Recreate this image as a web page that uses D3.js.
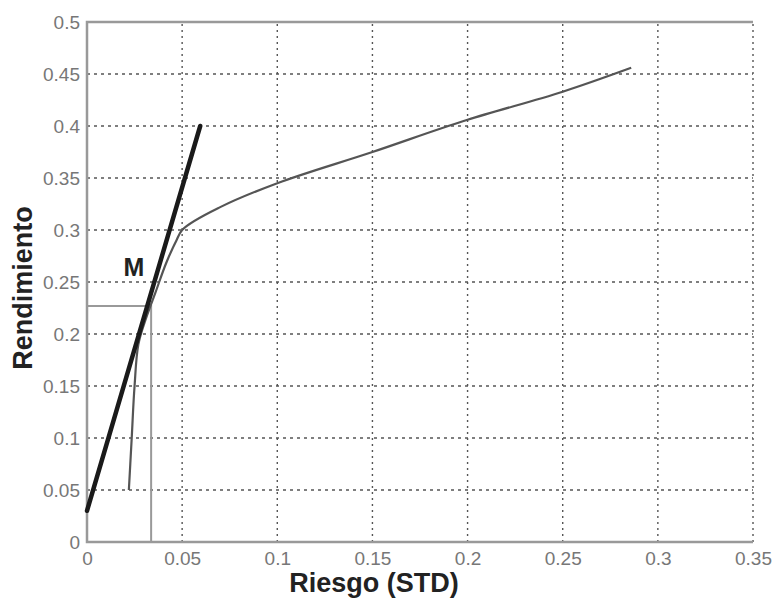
<!DOCTYPE html>
<html>
<head>
<meta charset="utf-8">
<script src="https://cdn.jsdelivr.net/npm/d3@7"></script>
<style>
  body { margin: 0; background: #fff; }
  text { font-family: "Liberation Sans", Arial, sans-serif; }
</style>
</head>
<body>
<script>
(function() {

  // ticks
  let xTicks = [0, 0.05, 0.1, 0.15, 0.2, 0.25, 0.3, 0.35];
  let yTicks = [0, 0.05, 0.1, 0.15, 0.2, 0.25, 0.3, 0.35, 0.4, 0.45, 0.5];

  // efficient frontier (risk, return)
  let frontierRisk = [0.022, 0.0235, 0.025, 0.027, 0.031, 0.036, 0.042, 0.047, 0.05, 0.07, 0.1, 0.15, 0.2, 0.25, 0.286];
  let frontierRet  = [0.05, 0.10, 0.15, 0.19, 0.215, 0.24, 0.27, 0.29, 0.30, 0.322, 0.345, 0.375, 0.406, 0.433, 0.456];

  // capital market line
  let cmlRisk = [0, 0.0595];
  let cmlRet  = [0.03, 0.40];

  // tangency portfolio M
  let mRisk = 0.0337;
  let mRet = 0.227;

  let svg = d3.select('body')
    .append('svg')
    .attr('width', 775)
    .attr('height', 600);

  let xScale = d3.scaleLinear().domain([0, 0.35]).range([87, 753]);
  let yScale = d3.scaleLinear().domain([0, 0.5]).range([542, 22]);

  // grid
  svg.append('g')
    .selectAll('line')
    .data(xTicks.slice(1))
    .enter()
    .append('line')
      .attr('x1', (d) => xScale(d))
      .attr('x2', (d) => xScale(d))
      .attr('y1', yScale(0))
      .attr('y2', yScale(0.5))
      .attr('stroke', '#555')
      .attr('stroke-width', 1.4)
      .attr('stroke-dasharray', '2,4');

  svg.append('g')
    .selectAll('line')
    .data(yTicks.slice(1, -1))
    .enter()
    .append('line')
      .attr('x1', xScale(0))
      .attr('x2', xScale(0.35))
      .attr('y1', (d) => yScale(d))
      .attr('y2', (d) => yScale(d))
      .attr('stroke', '#555')
      .attr('stroke-width', 1.4)
      .attr('stroke-dasharray', '3,4');

  // frame: top, left, bottom solid
  svg.append('path')
    .attr('d', 'M' + xScale(0.35) + ',' + yScale(0.5) + 'H' + xScale(0) + 'V' + yScale(0) + 'H' + xScale(0.35))
    .attr('fill', 'none')
    .attr('stroke', '#999')
    .attr('stroke-width', 2.5);

  // axes (labels only)
  let xAxis = d3.axisBottom(xScale)
    .tickValues(xTicks)
    .tickSize(0)
    .tickPadding(10)
    .tickFormat((d) => d3.format('')(+d.toFixed(2)));
  let gx = svg.append('g')
    .attr('transform', 'translate(0,' + yScale(0) + ')')
    .call(xAxis);

  let yAxis = d3.axisLeft(yScale)
    .tickValues(yTicks)
    .tickSize(0)
    .tickPadding(7)
    .tickFormat((d) => d3.format('')(+d.toFixed(2)));
  let gy = svg.append('g')
    .attr('transform', 'translate(' + xScale(0) + ',0)')
    .call(yAxis);

  [gx, gy].forEach((g) => {
    g.select('.domain').remove();
    g.selectAll('text')
      .attr('fill', '#777')
      .style('font-size', '19px')
      .style('font-family', '"Liberation Sans", Arial, sans-serif');
  });

  // M guide lines
  svg.append('path')
    .attr('d', 'M' + xScale(0) + ',' + yScale(mRet) + 'H' + xScale(mRisk) + 'V' + yScale(0))
    .attr('fill', 'none')
    .attr('stroke', '#999')
    .attr('stroke-width', 2);

  let line = d3.line()
    .x((d) => xScale(d[0]))
    .y((d) => yScale(d[1]));

  // frontier
  svg.append('path')
    .datum(d3.zip(frontierRisk, frontierRet))
    .attr('d', line.curve(d3.curveMonotoneY))
    .attr('fill', 'none')
    .attr('stroke', '#555')
    .attr('stroke-width', 2.2)
    .attr('stroke-linejoin', 'round');

  // capital market line
  svg.append('path')
    .datum(d3.zip(cmlRisk, cmlRet))
    .attr('d', d3.line().x((d) => xScale(d[0])).y((d) => yScale(d[1])))
    .attr('fill', 'none')
    .attr('stroke', '#1a1a1a')
    .attr('stroke-width', 4.5)
    .attr('stroke-linecap', 'round');

  // labels
  svg.append('text')
    .attr('x', 134)
    .attr('y', 276)
    .attr('text-anchor', 'middle')
    .style('font-size', '25px')
    .style('font-weight', 'bold')
    .attr('fill', '#222')
    .text('M');

  svg.append('text')
    .attr('x', 374)
    .attr('y', 592)
    .attr('text-anchor', 'middle')
    .style('font-size', '27px')
    .style('font-weight', 'bold')
    .attr('fill', '#222')
    .text('Riesgo (STD)');

  svg.append('text')
    .attr('transform', 'translate(32, 288)rotate(-90)')
    .attr('text-anchor', 'middle')
    .style('font-size', '27px')
    .style('font-weight', 'bold')
    .attr('fill', '#222')
    .text('Rendimiento');

})();
</script>
</body>
</html>
